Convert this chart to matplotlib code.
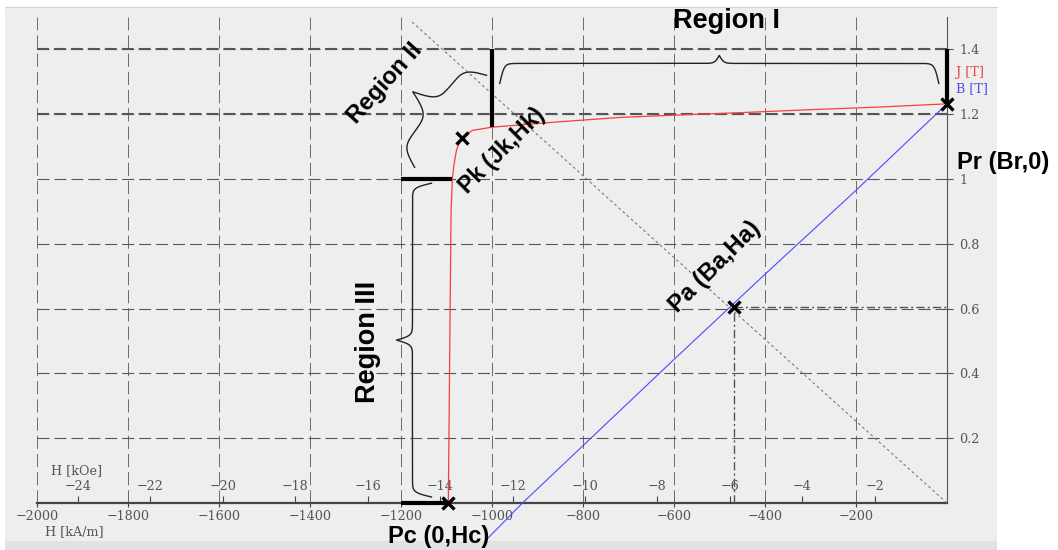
import numpy as np
import matplotlib
matplotlib.use("Agg")
import matplotlib.pyplot as plt
from matplotlib.patches import Rectangle
from matplotlib.lines import Line2D

plt.rcParams["lines.scale_dashes"] = False
plt.rcParams["font.family"] = ["DejaVu Serif"]
plt.rcParams["axes.unicode_minus"] = True

# ---- demagnetisation curves -------------------------------------------
# polarisation J(H)
H_J = [0, -150, -300, -450, -600, -720, -867, -1000, -1043, -1067,
       -1078, -1084, -1087, -1090, -1092, -1094, -1096]
J = [1.232, 1.222, 1.214, 1.205, 1.197, 1.19, 1.175, 1.16, 1.15, 1.128,
     1.09, 1.04, 1.0, 0.9, 0.6, 0.3, 0.0]
# flux density B(H)
H_B = [0, -200, -400, -600, -800, -933, -1010]
B = [1.232, 0.965, 0.706, 0.443, 0.177, 0.0, -0.11]

# characteristic points
Pr = (0, 1.232)
Pk = (-1067, 1.128)
Pa = (-468, 0.605)
Pc = (-1096, 0.0)

# load line through the origin
load_H = [0, -1180]
load_B = [0, 1.49]

# axis ticks
kam_ticks = [-2000, -1800, -1600, -1400, -1200, -1000, -800, -600, -400, -200]
koe_ticks = [-24, -22, -20, -18, -16, -14, -12, -10, -8, -6, -4, -2]
t_ticks = [0.2, 0.4, 0.6, 0.8, 1.0, 1.2, 1.4]
t_labels = ["0.2", "0.4", "0.6", "0.8", "1", "1.2", "1.4"]

KOE = 79.577  # kA/m per kOe
TICK_FS = 9.2

W, Hpx = 1058, 550
fig = plt.figure(figsize=(W / 100, Hpx / 100), dpi=100)
fig.patch.set_facecolor("white")

# grey panel behind the chart
fig.patches.append(Rectangle((5 / W, 9 / Hpx), 992 / W, 534 / Hpx,
                             transform=fig.transFigure, facecolor="#eeeeee",
                             edgecolor="none", zorder=-10))
fig.patches.append(Rectangle((5 / W, 0), 992 / W, 9 / Hpx,
                             transform=fig.transFigure, facecolor="#e2e2e2",
                             edgecolor="none", zorder=-10))
fig.lines.append(Line2D([5 / W, 997 / W], [1 - 6.5 / Hpx, 1 - 6.5 / Hpx],
                        transform=fig.transFigure, color="#d4d4d4", lw=0.8))

ax = fig.add_axes([37 / W, 47 / Hpx, 910 / W, 486 / Hpx])
ax.set_xlim(-2000, 0)
ax.set_ylim(0, 1.5)
ax.patch.set_visible(False)
for s in ("top", "left"):
    ax.spines[s].set_visible(False)
ax.spines["bottom"].set_color("#444444")
ax.spines["bottom"].set_linewidth(1.6)
ax.spines["right"].set_color("#555555")
ax.spines["right"].set_linewidth(0.8)

# kA/m axis
ax.set_xticks(kam_ticks)
ax.tick_params(axis="x", direction="out", length=3, width=0.8, color="#444444",
               pad=2, labelsize=TICK_FS, labelcolor="#555555")
# Tesla axis on the right
ax.yaxis.tick_right()
ax.set_yticks(t_ticks)
ax.set_yticklabels(t_labels)
ax.tick_params(axis="y", direction="out", length=4, width=0.8, color="#555555",
               pad=5, labelsize=TICK_FS, labelcolor="#555555")

# dashed grid
dash = (0, (8.6, 3.6))
ax.xaxis.grid(True, color="#6a6a6a", lw=0.7, linestyle=(0, (9.5, 3.6)))
ax.yaxis.grid(True, color="#555555", lw=0.8, linestyle=dash)
for yv in (1.2, 1.4):
    ax.axhline(yv, color="#555555", lw=1.5, linestyle=dash, zorder=1)
ax.set_axisbelow(True)

# kOe scale drawn on top of the H axis line
koe = ax.secondary_xaxis(0, functions=(lambda h: np.asarray(h) / KOE,
                                       lambda k: np.asarray(k) * KOE))
koe.set_alignment("top")
koe.spines[:].set_visible(False)
koe.set_xticks(koe_ticks)
koe.tick_params(axis="x", direction="out", length=5, width=0.8, color="#444444",
                pad=2, labelsize=TICK_FS, labelcolor="#555555")

ax.text(-1969, 0.099, "H [kOe]", ha="left", va="center", fontsize=TICK_FS, color="#555555")
ax.text(-1982, -0.089, "H [kA/m]", ha="left", va="center", fontsize=TICK_FS, color="#555555")
ax.text(20, 1.329, "J [T]", ha="left", va="center", fontsize=TICK_FS, color="#e84848")
ax.text(20, 1.28, "B [T]", ha="left", va="center", fontsize=TICK_FS, color="#5050e8")

# curves
ax.plot(load_H, load_B, color="#7a7a7a", lw=0.8, linestyle=(0, (2.0, 2.0)), zorder=3)
ax.plot(H_J, J, color="#ff3a3a", lw=0.9, zorder=5)
ax.plot(H_B, B, color="#4b4bff", lw=0.8, zorder=5, clip_on=False)

# working point guides
ddot = (0, (6, 2.2, 1.5, 2.2))
ax.plot([Pa[0], 0], [Pa[1], Pa[1]], color="#555555", lw=1.0, linestyle=ddot, zorder=4)
ax.plot([Pa[0], Pa[0]], [0, Pa[1]], color="#555555", lw=1.0, linestyle=ddot, zorder=4)

# region boundary bars
bar = dict(color="black", lw=3, solid_capstyle="butt", zorder=6, clip_on=False)
ax.plot([-1000, -1000], [1.4, 1.16], **bar)
ax.plot([0, 0], [1.4, Pr[1]], **bar)
ax.plot([-1200, -1087], [1.0, 1.0], **bar)
ax.plot([-1200, Pc[0]], [0, 0], **bar)

# marked points
pts_H = [Pr[0], Pk[0], Pa[0], Pc[0]]
pts_B = [Pr[1], Pk[1], Pa[1], Pc[1]]
ax.plot(pts_H, pts_B, "x", ms=9, mew=2.4, color="black", zorder=10, clip_on=False)


def brace(p1, p2, plateau, tip, sharp, n=300):
    """Curly brace between two data points, built in display pixels."""
    a = ax.transData.transform(p1)
    b = ax.transData.transform(p2)
    v = b - a
    L = np.hypot(*v)
    u = v / L
    perp = np.array([-u[1], u[0]])
    s = np.linspace(0, L / 2, n)
    f = plateau * (2 / (1 + np.exp(-sharp * s)) - 1) + \
        tip * (2 / (1 + np.exp(-sharp * (s - L / 2))))
    s_full = np.concatenate([s, L - s[::-1]])
    f_full = np.concatenate([f, f[::-1]])
    pts = a + np.outer(s_full, u) + np.outer(f_full, perp)
    d = ax.transData.inverted().transform(pts)
    ax.plot(d[:, 0], d[:, 1], color="#222222", lw=1.0, zorder=6, clip_on=False)


brace((-983, 1.295), (-18, 1.295), 20, 8, 0.45)
brace((-1133, 0.0185), (-1133, 0.987), 19, 16, 0.45)
brace((-1170, 1.036), (-1012, 1.32), 22, 26, 0.22)

lab = dict(family=["Liberation Sans", "DejaVu Sans"], weight="bold", color="black",
           ha="center", va="center", rotation_mode="anchor", zorder=11)
ax.text(-485, 1.489, "Region I", fontsize=19.5, **lab)
ax.text(-1236, 1.295, "Region II", fontsize=17, rotation=48, **lab)
ax.text(-1273, 0.496, "Region III", fontsize=19.5, rotation=90, **lab)
ax.text(-977, 1.088, "Pk (Jk,Hk)", fontsize=16.5, rotation=45, **lab)
ax.text(-511, 0.728, "Pa (Ba,Ha)", fontsize=17, rotation=45, **lab)
ax.text(123, 1.051, "Pr (Br,0)", fontsize=17, **lab)
ax.text(-1117, -0.102, "Pc (0,Hc)", fontsize=17, **lab)

fig.savefig("out.png", dpi=100)
